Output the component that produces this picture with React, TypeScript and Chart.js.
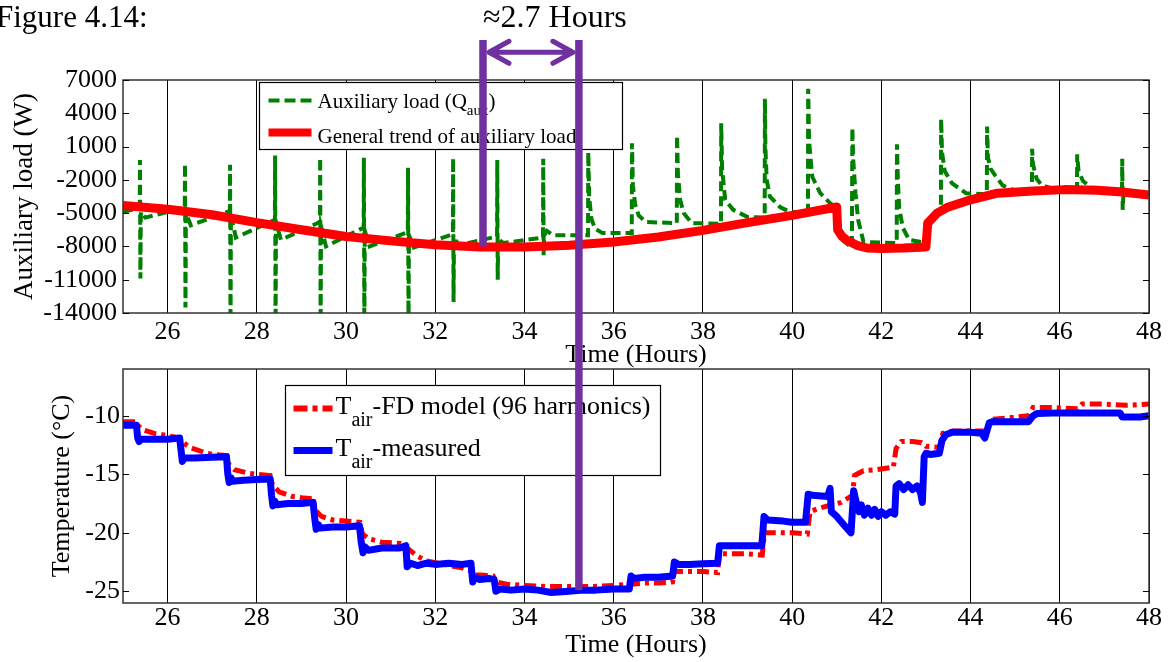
import React, { useEffect, useRef } from "react";
import { Chart, registerables } from "chart.js";

Chart.register(...registerables);

const W = 1172;
const H = 662;
const FAMILY = '"Liberation Serif", "Times New Roman", serif';
const GREEN = "#008000";
const RED = "#ff0000";
const BLUE = "#0000ff";
const PURPLE = "#7030a0";

// ---- axes ----
const hourTicks = [26, 28, 30, 32, 34, 36, 38, 40, 42, 44, 46, 48];
const loadTicks = [-14000, -11000, -8000, -5000, -2000, 1000, 4000, 7000];
const tempTicks = [-25, -20, -15, -10];

// ---- top panel: auxiliary load (W) ----
const auxHours = [
  25.0, 25.3, 25.375, 25.38, 25.39, 25.4, 25.5,
  26.385, 26.39, 26.4, 26.41, 26.52,
  27.395, 27.4, 27.41, 27.42, 27.53,
  28.405, 28.41, 28.42, 28.43, 28.54,
  29.415, 29.42, 29.43, 29.44, 29.55,
  30.395, 30.4, 30.41, 30.42, 30.53,
  31.385, 31.39, 31.4, 31.41, 31.52,
  32.395, 32.4, 32.41, 32.42, 32.53,
  33.385, 33.39, 33.4, 33.41, 33.52,
  34.415, 34.42, 34.43, 34.44, 34.5, 34.65,
  35.425, 35.43, 35.45, 35.5, 35.58, 35.75,
  36.405, 36.41, 36.43, 36.48, 36.56, 36.72,
  37.415, 37.42, 37.44, 37.49, 37.57, 37.75,
  38.405, 38.41, 38.43, 38.5, 38.68, 39.0,
  39.385, 39.39, 39.4, 39.43, 39.5, 39.73, 39.95,
  40.355, 40.36, 40.38, 40.45, 40.63, 40.85, 40.98,
  41.02, 41.15, 41.34, 41.35, 41.37, 41.42, 41.48, 41.6,
  42.345, 42.35, 42.37, 42.4, 42.48, 42.62,
  43.02, 43.05, 43.2, 43.335, 43.34, 43.36, 43.42, 43.58, 43.9,
  44.365, 44.37, 44.39, 44.45, 44.55, 44.72, 44.95,
  45.375, 45.38, 45.4, 45.48, 45.6, 45.85,
  46.385, 46.39, 46.42, 46.52, 46.7,
  47.395, 47.4, 47.41, 47.43, 48.0,
];
const auxWatts = [
  -4900, -4600, -4500, -200, -10900, -4900, -5400,
  -4500, -550, -13500, -5000, -6100,
  -4800, -650, -15500, -5200, -7200,
  -5600, 200, -15500, -5800, -7400,
  -5800, 0, -15500, -6200, -8000,
  -6300, 0, -15500, -6600, -8000,
  -6700, -900, -15500, -7000, -8100,
  -6900, -50, -13000, -7200, -7900,
  -7100, -200, -11000, -7300, -7700,
  -7200, -100, -8800, -7000, -6600, -7000,
  -7000, 500, -3500, -5500, -6400, -6800,
  -6800, 1300, -2500, -4200, -5200, -5800,
  -5900, 2000, -1500, -3800, -5000, -5900,
  -5950, 3100, -1000, -3800, -4700, -5350,
  -5400, 5300, 1000, -2000, -3500, -4450, -4900,
  -4950, 6200, 1500, -1700, -3200, -4100, -4450,
  -6600, -7500, -8100, 2700, -200, -3200, -5600, -7600,
  -7700, 1200, -2000, -4500, -6300, -7400,
  -7700, -5900, -5300, -4900, 3500, 500, -1200, -2300, -3200,
  -3300, 2800, 0, -1000, -1600, -2500, -2900,
  -2950, 800, -600, -1900, -2500, -2800,
  -2850, 300, -1200, -2100, -2700,
  -2900, -100, -4700, -3100, -3350,
];

const trendHours = [
  25, 26, 27, 28, 29, 30, 31, 32, 33, 34, 35, 36, 37, 38, 39, 40, 41,
  41.02, 41.12, 41.23, 41.45, 41.68, 42, 42.5, 43,
  43.04, 43.25, 43.47, 44, 44.6, 45.4, 46.1, 46.85, 47.4, 48,
];
const trendWatts = [
  -4300, -4650, -5150, -5850, -6500, -7100, -7500, -7850, -8050, -8050, -7900, -7600, -7150, -6550, -5850, -5200, -4450,
  -6500, -7100, -7450, -7900, -8140, -8180, -8150, -8050,
  -5900, -5000, -4500, -3800, -3200, -3000, -2880, -2940, -3100, -3360,
];

// ---- bottom panel: air temperature (°C) ----
const measHours = [
  25.0, 25.3, 25.33, 25.36, 25.4, 25.7, 26.0, 26.27,
  26.3, 26.33, 26.37, 26.6, 27.0, 27.32,
  27.35, 27.38, 27.42, 27.45, 27.7, 28.0, 28.3,
  28.33, 28.36, 28.4, 28.45, 28.7, 29.0, 29.26,
  29.3, 29.33, 29.38, 29.42, 29.7, 30.0, 30.3,
  30.34, 30.38, 30.42, 30.5, 30.8, 31.2, 31.34,
  31.37, 31.45, 31.6, 31.8, 32.0, 32.3, 32.6, 32.8,
  32.84, 32.9, 33.0, 33.2, 33.32,
  33.36, 33.45, 33.7, 34.0, 34.3, 34.6, 35.0, 35.3, 35.6, 36.0, 36.35,
  36.39, 36.45, 36.7, 37.0, 37.32,
  37.36, 37.45, 37.7, 38.0, 38.33,
  38.37, 38.45, 38.8, 39.32,
  39.37, 39.45, 39.8, 40.0, 40.3,
  40.36, 40.45, 40.8, 40.85, 40.88, 41.0, 41.2, 41.32,
  41.38, 41.45, 41.5, 41.55, 41.62, 41.7, 41.78, 41.85, 41.93, 42.0, 42.1, 42.2, 42.3,
  42.33, 42.4, 42.5, 42.6, 42.7, 42.8, 42.88, 42.92,
  42.96, 43.0, 43.1, 43.3,
  43.36, 43.45, 43.6, 44.0, 44.25, 44.32,
  44.42, 44.5, 45.0, 45.3,
  45.4, 45.5, 46.0, 46.5, 47.0, 47.35, 47.4, 47.8, 48.0,
];
const measTemps = [
  -10.8, -10.8, -11.9, -12.2, -12.0, -12.0, -12.0, -11.9,
  -12.9, -13.9, -13.6, -13.6, -13.55, -13.5,
  -15.0, -15.7, -15.3, -15.6, -15.5, -15.45, -15.4,
  -16.8, -17.7, -17.3, -17.6, -17.5, -17.5, -17.4,
  -18.8, -19.7, -19.3, -19.6, -19.5, -19.5, -19.4,
  -20.8, -21.7, -21.2, -21.5, -21.3, -21.3, -21.1,
  -22.9, -22.6, -22.8, -22.6, -22.7, -22.6, -22.7, -22.6,
  -24.2, -23.8, -24.0, -23.9, -24.0,
  -25.0, -24.8, -24.9, -24.8, -24.9, -25.1, -25.0, -24.9, -24.9, -24.8, -24.8,
  -23.7, -23.9, -23.8, -23.8, -23.7,
  -22.5, -22.7, -22.7, -22.65, -22.6,
  -21.1, -21.1, -21.1, -21.1,
  -18.6, -18.9, -19.0, -19.1, -19.1,
  -16.7, -16.8, -16.9, -16.2, -18.2, -18.6, -19.5, -20.0,
  -16.4, -17.6, -18.2, -17.6, -18.5, -17.9, -18.5, -18.0, -18.6, -18.2, -18.5, -18.2, -18.4,
  -16.0, -15.8, -16.3, -15.9, -16.3, -16.0, -16.6, -17.4,
  -13.5, -13.2, -13.3, -13.2,
  -12.1, -11.6, -11.4, -11.4, -11.5, -11.9,
  -10.6, -10.5, -10.5, -10.5,
  -10.0, -9.8, -9.75, -9.75, -9.75, -9.75, -10.1, -10.1, -10.0,
];

const fdHours = [
  25.0, 25.3, 25.35, 25.45, 25.7, 26.0, 26.28,
  26.35, 26.5, 26.8, 27.0, 27.33,
  27.38, 27.5, 27.8, 28.0, 28.3,
  28.35, 28.5, 28.8, 29.0, 29.26,
  29.32, 29.45, 29.7, 30.0, 30.31,
  30.37, 30.5, 30.8, 31.2,
  31.37, 31.6, 31.8, 32.2, 32.6, 32.82,
  32.9, 33.0, 33.3,
  33.38, 33.6, 34.0, 34.5, 35.0, 35.5, 36.0, 36.4, 36.7, 37.0, 37.32,
  37.36, 37.6, 38.0, 38.33,
  38.37, 38.7, 39.0, 39.33,
  39.38, 39.8, 40.0, 40.34,
  40.4, 40.6, 40.9, 41.1, 41.35,
  41.4, 41.6, 41.9, 42.27,
  42.33, 42.45, 42.7, 42.9, 43.0, 43.3,
  43.38, 43.6, 44.0, 44.35,
  44.44, 44.8, 45.3,
  45.4, 45.8, 46.4,
  46.5, 47.0, 47.5, 48.0,
];
const fdTemps = [
  -10.5, -10.5, -10.9, -11.2, -11.5, -11.7, -11.9,
  -12.3, -12.7, -13.1, -13.3, -13.4,
  -14.2, -14.6, -14.9, -15.0, -15.1,
  -15.9, -16.5, -16.9, -17.0, -17.1,
  -18.1, -18.6, -18.9, -19.0, -19.1,
  -20.1, -20.5, -20.8, -20.9,
  -21.3, -22.0, -22.4, -22.7, -23.0, -23.3,
  -23.6, -23.6, -23.7,
  -24.2, -24.4, -24.5, -24.6, -24.6, -24.6, -24.5, -24.4, -24.3, -24.3, -24.2,
  -23.3, -23.3, -23.3, -23.4,
  -21.8, -21.8, -21.8, -21.9,
  -20.0, -20.0, -20.0, -20.1,
  -18.2, -17.9, -17.6, -17.4, -16.8,
  -15.1, -14.7, -14.6, -14.4,
  -12.8, -12.2, -12.2, -12.3, -12.6, -12.7,
  -11.5, -11.3, -11.3, -11.3,
  -10.3, -10.2, -10.0,
  -9.3, -9.3, -9.4,
  -9.0, -9.0, -9.1, -9.0,
];

// ---- annotation (purple markers) ----
const markerHours = [33.07, 35.22];
const markerTopLoad = 10600;
const arrowLoad = 9500;
const marker1EndLoad = -8000;
const marker2EndTemp = -24.9;

const pts = (xs: number[], ys: number[]) => xs.map((x, i) => ({ x, y: ys[i] }));

const framePlugin = {
  id: "frame",
  afterDatasetsDraw(chart: any) {
    const { ctx, chartArea: a, scales } = chart;
    ctx.save();
    ctx.strokeStyle = "#333";
    ctx.lineWidth = 1.5;
    ctx.strokeRect(a.left, a.top, a.right - a.left, a.bottom - a.top);
    ctx.lineWidth = 1.2;
    ctx.strokeStyle = "#000";
    for (const t of scales.y.ticks) {
      const y = Math.round(scales.y.getPixelForValue(t.value)) + 0.5;
      ctx.beginPath();
      ctx.moveTo(a.left, y);
      ctx.lineTo(a.left + 6, y);
      ctx.moveTo(a.right, y);
      ctx.lineTo(a.right - 6, y);
      ctx.stroke();
    }
    ctx.restore();
  },
};

function drawEntryText(ctx: any, x: number, y: number, parts: [string, boolean][], size: number, subSize: number, subDrop: number) {
  let cx = x;
  for (const [txt, sub] of parts) {
    ctx.font = `${sub ? subSize : size}px ${FAMILY}`;
    ctx.fillText(txt, cx, sub ? y + subDrop : y);
    cx += ctx.measureText(txt).width;
  }
}

const topLegendPlugin = {
  id: "topLegend",
  afterDatasetsDraw(chart: any) {
    const { ctx, chartArea: a } = chart;
    const L = a.left + 136.5, T = a.top + 2.5, BW = 363, BH = 67;
    ctx.save();
    ctx.fillStyle = "#fff";
    ctx.fillRect(L, T, BW, BH);
    ctx.strokeStyle = "#000";
    ctx.lineWidth = 1.2;
    ctx.strokeRect(L, T, BW, BH);
    ctx.strokeStyle = GREEN;
    ctx.lineWidth = 4;
    ctx.setLineDash([11, 5]);
    ctx.beginPath();
    ctx.moveTo(L + 9, T + 18);
    ctx.lineTo(L + 52, T + 18);
    ctx.stroke();
    ctx.setLineDash([]);
    ctx.strokeStyle = RED;
    ctx.lineWidth = 8;
    ctx.beginPath();
    ctx.moveTo(L + 9, T + 50);
    ctx.lineTo(L + 52, T + 50);
    ctx.stroke();
    ctx.fillStyle = "#000";
    ctx.textBaseline = "alphabetic";
    ctx.textAlign = "left";
    drawEntryText(ctx, L + 58, T + 25, [["Auxiliary load (Q", false], ["aux", true], [")", false]], 21, 15, 7);
    drawEntryText(ctx, L + 58, T + 60, [["General trend of auxiliary load", false]], 21, 15, 7);
    ctx.restore();
  },
};

const bottomLegendPlugin = {
  id: "bottomLegend",
  afterDatasetsDraw(chart: any) {
    const { ctx, chartArea: a } = chart;
    const L = a.left + 162.5, T = a.top + 16.5, BW = 375, BH = 90;
    ctx.save();
    ctx.fillStyle = "#fff";
    ctx.fillRect(L, T, BW, BH);
    ctx.strokeStyle = "#000";
    ctx.lineWidth = 1.2;
    ctx.strokeRect(L, T, BW, BH);
    ctx.strokeStyle = RED;
    ctx.lineWidth = 6;
    ctx.setLineDash([14, 5, 5, 5]);
    ctx.beginPath();
    ctx.moveTo(L + 8, T + 23);
    ctx.lineTo(L + 47, T + 23);
    ctx.stroke();
    ctx.setLineDash([]);
    ctx.strokeStyle = BLUE;
    ctx.lineWidth = 7;
    ctx.beginPath();
    ctx.moveTo(L + 8, T + 65);
    ctx.lineTo(L + 47, T + 65);
    ctx.stroke();
    ctx.fillStyle = "#000";
    ctx.textBaseline = "alphabetic";
    ctx.textAlign = "left";
    drawEntryText(ctx, L + 50, T + 28, [["T", false], ["air", true], ["-FD model (96 harmonics)", false]], 26, 20, 12);
    drawEntryText(ctx, L + 50, T + 70, [["T", false], ["air", true], ["-measured", false]], 26, 20, 12);
    ctx.restore();
  },
};

function xAxis(height: number, labelPad: number, titlePad: number) {
  return {
    type: "linear",
    min: 25,
    max: 48,
    afterBuildTicks: (s: any) => {
      s.ticks = hourTicks.map((v) => ({ value: v }));
    },
    afterFit: (s: any) => {
      s.height = height;
    },
    grid: { color: "#000", lineWidth: 1, drawTicks: false },
    border: { display: false },
    ticks: {
      font: { family: FAMILY, size: 26 },
      color: "#000",
      padding: labelPad,
      maxRotation: 0,
      autoSkip: false,
      callback: (v: any) => String(v),
    },
    title: {
      display: true,
      text: "Time (Hours)",
      color: "#000",
      font: { family: FAMILY, size: 26, lineHeight: 1 },
      padding: { top: 0, bottom: titlePad },
    },
  };
}

function yAxis(min: number, max: number, ticks: number[], title: string, titleSize: number, titlePad: number, labelPad: number) {
  return {
    type: "linear",
    min,
    max,
    afterBuildTicks: (s: any) => {
      s.ticks = ticks.map((v) => ({ value: v }));
    },
    afterFit: (s: any) => {
      s.width = 123;
    },
    grid: { display: false, drawTicks: false },
    border: { display: false },
    ticks: {
      font: { family: FAMILY, size: 26 },
      color: "#000",
      padding: labelPad,
      autoSkip: false,
      callback: (v: any) => String(v),
    },
    title: {
      display: true,
      text: title,
      color: "#000",
      font: { family: FAMILY, size: titleSize, lineHeight: 1 },
      padding: { top: titlePad, bottom: 0 },
    },
  };
}

const baseOptions = {
  responsive: false,
  maintainAspectRatio: false,
  animation: false,
  devicePixelRatio: 1,
  events: [],
  plugins: { legend: { display: false }, tooltip: { enabled: false }, title: { display: false } },
};

export default function App() {
  const topRef = useRef<HTMLCanvasElement>(null);
  const botRef = useRef<HTMLCanvasElement>(null);

  useEffect(() => {
    const top = new Chart(topRef.current as HTMLCanvasElement, {
      type: "line",
      data: {
        datasets: [
          {
            label: "General trend of auxiliary load",
            data: pts(trendHours, trendWatts),
            borderColor: RED,
            borderWidth: 9,
            pointRadius: 0,
            tension: 0,
            borderJoinStyle: "round",
          },
          {
            label: "Auxiliary load (Qaux)",
            data: pts(auxHours, auxWatts),
            borderColor: GREEN,
            borderWidth: 4,
            borderDash: [10, 5],
            pointRadius: 0,
            tension: 0,
          },
        ],
      },
      options: {
        ...baseOptions,
        layout: { padding: { top: 80, left: 0, right: 23, bottom: 292 } },
        scales: {
          x: xAxis(57, 4, 2),
          y: yAxis(-14000, 7000, loadTicks, "Auxiliary load (W)", 27, 11, 6),
        },
      } as any,
      plugins: [framePlugin, topLegendPlugin],
    } as any);

    const purplePlugin = {
      id: "purpleMarkers",
      afterDraw(chart: any) {
        const { ctx } = chart;
        const xs = top.scales.x;
        const ys = top.scales.y;
        const x1 = xs.getPixelForValue(markerHours[0]);
        const x2 = xs.getPixelForValue(markerHours[1]);
        const yTop = ys.getPixelForValue(markerTopLoad);
        const yA = ys.getPixelForValue(arrowLoad);
        const y1 = ys.getPixelForValue(marker1EndLoad);
        const y2 = chart.scales.y.getPixelForValue(marker2EndTemp);
        ctx.save();
        ctx.strokeStyle = PURPLE;
        ctx.lineCap = "butt";
        ctx.lineWidth = 7.5;
        ctx.beginPath();
        ctx.moveTo(x1, yTop);
        ctx.lineTo(x1, y1);
        ctx.moveTo(x2, yTop);
        ctx.lineTo(x2, y2);
        ctx.stroke();
        ctx.lineWidth = 5;
        ctx.lineCap = "round";
        ctx.lineJoin = "round";
        const l = x1 + 6, r = x2 - 6;
        ctx.beginPath();
        ctx.moveTo(l, yA);
        ctx.lineTo(r, yA);
        ctx.moveTo(l + 20, yA - 11);
        ctx.lineTo(l, yA);
        ctx.lineTo(l + 20, yA + 11);
        ctx.moveTo(r - 20, yA - 11);
        ctx.lineTo(r, yA);
        ctx.lineTo(r - 20, yA + 11);
        ctx.stroke();
        ctx.restore();
      },
    };

    const bottom = new Chart(botRef.current as HTMLCanvasElement, {
      type: "line",
      data: {
        datasets: [
          {
            label: "Tair-measured",
            data: pts(measHours, measTemps),
            borderColor: BLUE,
            borderWidth: 7,
            pointRadius: 0,
            tension: 0,
            borderJoinStyle: "round",
          },
          {
            label: "Tair-FD model (96 harmonics)",
            data: pts(fdHours, fdTemps),
            borderColor: RED,
            borderWidth: 5,
            borderDash: [12, 5, 4, 5],
            pointRadius: 0,
            tension: 0,
          },
        ],
      },
      options: {
        ...baseOptions,
        layout: { padding: { top: 369, left: 0, right: 23, bottom: 0 } },
        scales: {
          x: xAxis(59, 0, 4),
          y: yAxis(-26, -6, tempTicks, "Temperature (°C)", 26, 49, 3),
        },
      } as any,
      plugins: [framePlugin, bottomLegendPlugin, purplePlugin],
    } as any);

    return () => {
      bottom.destroy();
      top.destroy();
    };
  }, []);

  return (
    <div
      style={{
        position: "absolute",
        left: 0,
        top: 0,
        width: W,
        height: H,
        background: "#fff",
        overflow: "hidden",
      }}
    >
      <canvas ref={topRef} width={W} height={H} style={{ position: "absolute", left: 0, top: 0 }} />
      <canvas ref={botRef} width={W} height={H} style={{ position: "absolute", left: 0, top: 0 }} />
      <div
        style={{
          position: "absolute",
          left: -4,
          top: 1,
          fontFamily: FAMILY,
          fontSize: 31,
          lineHeight: 1,
          whiteSpace: "nowrap",
          color: "#000",
        }}
      >
        Figure 4.14:
      </div>
      <div
        style={{
          position: "absolute",
          left: 483,
          top: 0,
          fontFamily: FAMILY,
          fontSize: 32,
          lineHeight: 1,
          whiteSpace: "nowrap",
          color: "#000",
        }}
      >
        ≈2.7 Hours
      </div>
    </div>
  );
}
